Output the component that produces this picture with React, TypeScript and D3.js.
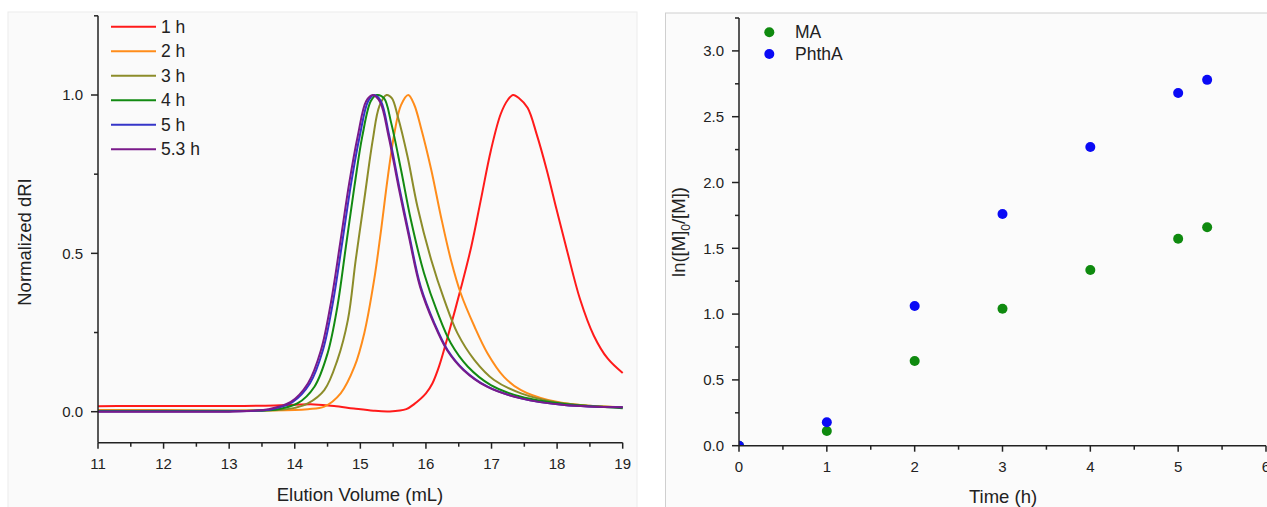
import React from "react";
import * as d3 from "d3";

// ---------- Left panel data: normalized dRI traces [elution volume (mL), value] ----------
const h1: [number, number][] = [
  [11.0, 0.017], [11.5, 0.018], [12.0, 0.018], [12.5, 0.018], [13.0, 0.018], [13.5, 0.019],
  [14.0, 0.022], [14.3, 0.023], [14.6, 0.018], [14.9, 0.01], [15.2, 0.003], [15.45, 0.001],
  [15.7, 0.008], [15.82, 0.024], [16.0, 0.058], [16.1, 0.09], [16.2, 0.143], [16.33, 0.235],
  [16.53, 0.388], [16.69, 0.52], [16.84, 0.672], [16.99, 0.825], [17.14, 0.94], [17.25, 0.985],
  [17.33, 1.0], [17.42, 0.99], [17.55, 0.96], [17.69, 0.875], [17.84, 0.765], [17.99, 0.64],
  [18.15, 0.51], [18.35, 0.355], [18.56, 0.24], [18.77, 0.168], [19.0, 0.122],
];
const h2: [number, number][] = [
  [11.0, 0.005], [12.0, 0.005], [13.0, 0.004], [13.5, 0.004], [14.0, 0.005], [14.2, 0.008],
  [14.45, 0.016], [14.7, 0.058], [14.91, 0.142], [15.06, 0.248], [15.21, 0.416], [15.31, 0.564],
  [15.42, 0.743], [15.52, 0.881], [15.62, 0.968], [15.73, 1.0], [15.82, 0.97], [15.92, 0.9],
  [16.08, 0.765], [16.23, 0.615], [16.38, 0.48], [16.53, 0.374], [16.74, 0.269], [16.94, 0.184],
  [17.19, 0.11], [17.45, 0.068], [17.86, 0.037], [18.36, 0.021], [19.0, 0.014],
];
const h3: [number, number][] = [
  [11.0, 0.003], [12.0, 0.003], [13.0, 0.003], [13.5, 0.004], [13.8, 0.006], [14.0, 0.012],
  [14.2, 0.026], [14.45, 0.068], [14.65, 0.163], [14.81, 0.29], [14.93, 0.48], [15.06, 0.67],
  [15.19, 0.859], [15.29, 0.965], [15.4, 1.0], [15.48, 0.99], [15.57, 0.933], [15.72, 0.805],
  [15.87, 0.648], [16.08, 0.48], [16.28, 0.353], [16.48, 0.248], [16.74, 0.163], [17.04, 0.1],
  [17.45, 0.058], [17.96, 0.031], [18.5, 0.019], [19.0, 0.014],
];
const h4: [number, number][] = [
  [11.0, 0.002], [12.0, 0.002], [13.0, 0.002], [13.4, 0.003], [13.7, 0.006], [14.04, 0.026],
  [14.3, 0.079], [14.5, 0.184], [14.65, 0.332], [14.78, 0.522], [14.91, 0.712], [15.03, 0.87],
  [15.16, 0.981], [15.25, 1.0], [15.36, 0.99], [15.47, 0.912], [15.62, 0.764], [15.77, 0.606],
  [15.97, 0.438], [16.18, 0.311], [16.38, 0.216], [16.64, 0.142], [16.99, 0.084], [17.45, 0.047],
  [18.11, 0.024], [19.0, 0.011],
];
const h5: [number, number][] = [
  [11.0, 0.001], [12.0, 0.001], [13.0, 0.001], [13.4, 0.003], [13.65, 0.008], [13.97, 0.031],
  [14.23, 0.089], [14.43, 0.195], [14.58, 0.343], [14.73, 0.543], [14.86, 0.722], [14.99, 0.87],
  [15.12, 0.981], [15.21, 1.0], [15.31, 0.982], [15.44, 0.872], [15.59, 0.713], [15.75, 0.553],
  [15.92, 0.395], [16.13, 0.279], [16.33, 0.195], [16.58, 0.132], [16.94, 0.079], [17.45, 0.042],
  [18.11, 0.021], [19.0, 0.014],
];
const h53: [number, number][] = [
  [11.0, 0.0], [12.0, 0.0], [13.0, 0.0], [13.35, 0.003], [13.6, 0.008], [13.94, 0.031],
  [14.2, 0.089], [14.4, 0.195], [14.55, 0.343], [14.7, 0.543], [14.83, 0.722], [14.96, 0.87],
  [15.09, 0.981], [15.19, 1.0], [15.3, 0.978], [15.43, 0.87], [15.58, 0.712], [15.74, 0.553],
  [15.91, 0.395], [16.12, 0.279], [16.32, 0.195], [16.57, 0.132], [16.93, 0.079], [17.45, 0.042],
  [18.11, 0.021], [19.0, 0.014],
];

const seriesLabels = ["1 h", "2 h", "3 h", "4 h", "5 h", "5.3 h"];
const seriesData = [h1, h2, h3, h4, h5, h53];
const seriesColors = ["#ff1a1a", "#ff8c1a", "#8c8c2a", "#128a12", "#3535c8", "#7a1a8a"];

const leftXTicks = [11, 12, 13, 14, 15, 16, 17, 18, 19];
const leftXMinor = [11.5, 12.5, 13.5, 14.5, 15.5, 16.5, 17.5, 18.5];
const leftYTicks = [0, 0.5, 1.0];
const leftYMinor = [0.25, 0.75, 1.25];

// ---------- Right panel data: kinetics ----------
const times = [0, 1, 2, 3, 4, 5, 5.33];
const maValues = [0, 0.112, 0.644, 1.041, 1.335, 1.573, 1.66];
const phthaValues = [0, 0.178, 1.062, 1.76, 2.27, 2.68, 2.78];

const rightXTicks = [0, 1, 2, 3, 4, 5, 6];
const rightXMinor = [0.5, 1.5, 2.5, 3.5, 4.5, 5.5];
const rightYTicks = [0, 0.5, 1.0, 1.5, 2.0, 2.5, 3.0];
const rightYMinor = [0.25, 0.75, 1.25, 1.75, 2.25, 2.75, 3.25];

const FONT = "'Liberation Sans', Arial, Helvetica, sans-serif";
const AX = "#222";

export default function App() {
  const W = 1267, H = 507;

  // Left scales
  const xL = d3.scaleLinear().domain([11, 19]).range([98, 622.7]);
  const yL = d3.scaleLinear().domain([0, 1]).range([411.7, 95]);
  const yLBottom = 442.7;
  const yLTop = yL(1.25);

  // Right scales
  const xR = d3.scaleLinear().domain([0, 6]).range([739, 1266]);
  const yR = d3.scaleLinear().domain([0, 3]).range([445.7, 445.7 - 3 * 131.6]);
  const yRTop = yR(3.25);

  const line = d3
    .line<[number, number]>()
    .x((d) => xL(d[0]))
    .y((d) => yL(d[1]))
    .curve(d3.curveCatmullRom.alpha(0.5));

  return (
    <svg
      width={W}
      height={H}
      style={{ position: "absolute", left: 0, top: 0, display: "block", background: "#fff" }}
      fontFamily={FONT}
    >
      <defs>
        <clipPath id="clipR">
          <rect x={xR(0)} y={yRTop} width={xR(6) - xR(0)} height={yR(0) - yRTop} />
        </clipPath>
      </defs>

      {/* panel backgrounds */}
      <rect x={8} y={12} width={629} height={500} fill="#fafafa" stroke="#ececec" />
      <rect x={665.5} y={13} width={620} height={500} fill="#fbfbfb" stroke="#cfcfcf" />

      {/* ===== LEFT PANEL ===== */}
      {seriesData.map((d, i) => (
        <path key={i} d={line(d) || ""} fill="none" stroke={seriesColors[i]} strokeWidth={2} />
      ))}

      {/* left axes */}
      <line x1={xL(11)} x2={xL(11)} y1={yLTop} y2={yLBottom} stroke={AX} strokeWidth={1.5} />
      <line x1={xL(11)} x2={xL(19)} y1={yLBottom} y2={yLBottom} stroke={AX} strokeWidth={1.5} />
      {leftYTicks.map((t) => (
        <g key={"ly" + t}>
          <line x1={xL(11) - 7} x2={xL(11)} y1={yL(t)} y2={yL(t)} stroke={AX} strokeWidth={1.5} />
          <text x={83} y={yL(t)} dy="0.35em" textAnchor="end" fontSize={15} fill={AX}>
            {t.toFixed(1)}
          </text>
        </g>
      ))}
      {leftYMinor.map((t) => (
        <line key={"lym" + t} x1={xL(11) - 4} x2={xL(11)} y1={yL(t)} y2={yL(t)} stroke={AX} strokeWidth={1.5} />
      ))}
      {leftXTicks.map((t) => (
        <g key={"lx" + t}>
          <line x1={xL(t)} x2={xL(t)} y1={yLBottom} y2={yLBottom + 6} stroke={AX} strokeWidth={1.5} />
          <text x={xL(t)} y={yLBottom + 21} dy="0.35em" textAnchor="middle" fontSize={15} fill={AX}>
            {t}
          </text>
        </g>
      ))}
      {leftXMinor.map((t) => (
        <line key={"lxm" + t} x1={xL(t)} x2={xL(t)} y1={yLBottom} y2={yLBottom + 4} stroke={AX} strokeWidth={1.5} />
      ))}
      <text x={360} y={495} dy="0.35em" textAnchor="middle" fontSize={18.5} fill={AX}>
        Elution Volume (mL)
      </text>
      <text
        transform={`translate(25,242) rotate(-90)`}
        dy="0.35em"
        textAnchor="middle"
        fontSize={18.5}
        fill={AX}
      >
        Normalized dRI
      </text>

      {/* left legend */}
      {seriesLabels.map((s, i) => {
        const yy = 26.7 + i * 24.5;
        return (
          <g key={"lg" + s}>
            <line x1={111} x2={156} y1={yy} y2={yy} stroke={seriesColors[i]} strokeWidth={2} />
            <text x={161} y={yy} dy="0.35em" fontSize={17.5} fill={AX}>
              {s}
            </text>
          </g>
        );
      })}

      {/* ===== RIGHT PANEL ===== */}
      <g clipPath="url(#clipR)">
        {times.map((t, i) => (
          <circle key={"ma" + i} cx={xR(t)} cy={yR(maValues[i])} r={5} fill="#0f8a0f" />
        ))}
        {times.map((t, i) => (
          <circle key={"ph" + i} cx={xR(t)} cy={yR(phthaValues[i])} r={5} fill="#0a0af5" />
        ))}
      </g>

      <line x1={xR(0)} x2={xR(0)} y1={yRTop} y2={yR(0)} stroke={AX} strokeWidth={1.5} />
      <line x1={xR(0)} x2={xR(6)} y1={yR(0)} y2={yR(0)} stroke={AX} strokeWidth={1.5} />
      {rightYTicks.map((t) => (
        <g key={"ry" + t}>
          <line x1={xR(0) - 7} x2={xR(0)} y1={yR(t)} y2={yR(t)} stroke={AX} strokeWidth={1.5} />
          <text x={724} y={yR(t)} dy="0.35em" textAnchor="end" fontSize={15} fill={AX}>
            {t.toFixed(1)}
          </text>
        </g>
      ))}
      {rightYMinor.map((t) => (
        <line key={"rym" + t} x1={xR(0) - 4} x2={xR(0)} y1={yR(t)} y2={yR(t)} stroke={AX} strokeWidth={1.5} />
      ))}
      {rightXTicks.map((t) => (
        <g key={"rx" + t}>
          <line x1={xR(t)} x2={xR(t)} y1={yR(0)} y2={yR(0) + 6} stroke={AX} strokeWidth={1.5} />
          <text x={xR(t)} y={yR(0) + 21} dy="0.35em" textAnchor="middle" fontSize={15} fill={AX}>
            {t}
          </text>
        </g>
      ))}
      {rightXMinor.map((t) => (
        <line key={"rxm" + t} x1={xR(t)} x2={xR(t)} y1={yR(0)} y2={yR(0) + 4} stroke={AX} strokeWidth={1.5} />
      ))}
      <text x={1003} y={497} dy="0.35em" textAnchor="middle" fontSize={18.5} fill={AX}>
        Time (h)
      </text>
      <text transform={`translate(679,232) rotate(-90)`} dy="0.35em" textAnchor="middle" fontSize={18.5} fill={AX}>
        ln([M]
        <tspan fontSize={12} dy="0.35em">0</tspan>
        <tspan dy="-0.25em">/[M])</tspan>
      </text>

      {/* right legend */}
      <circle cx={769.3} cy={32.3} r={5} fill="#0f8a0f" />
      <text x={795} y={32.3} dy="0.35em" fontSize={17.5} fill={AX}>
        MA
      </text>
      <circle cx={769.3} cy={54} r={5} fill="#0a0af5" />
      <text x={795} y={54} dy="0.35em" fontSize={17.5} fill={AX}>
        PhthA
      </text>
    </svg>
  );
}
